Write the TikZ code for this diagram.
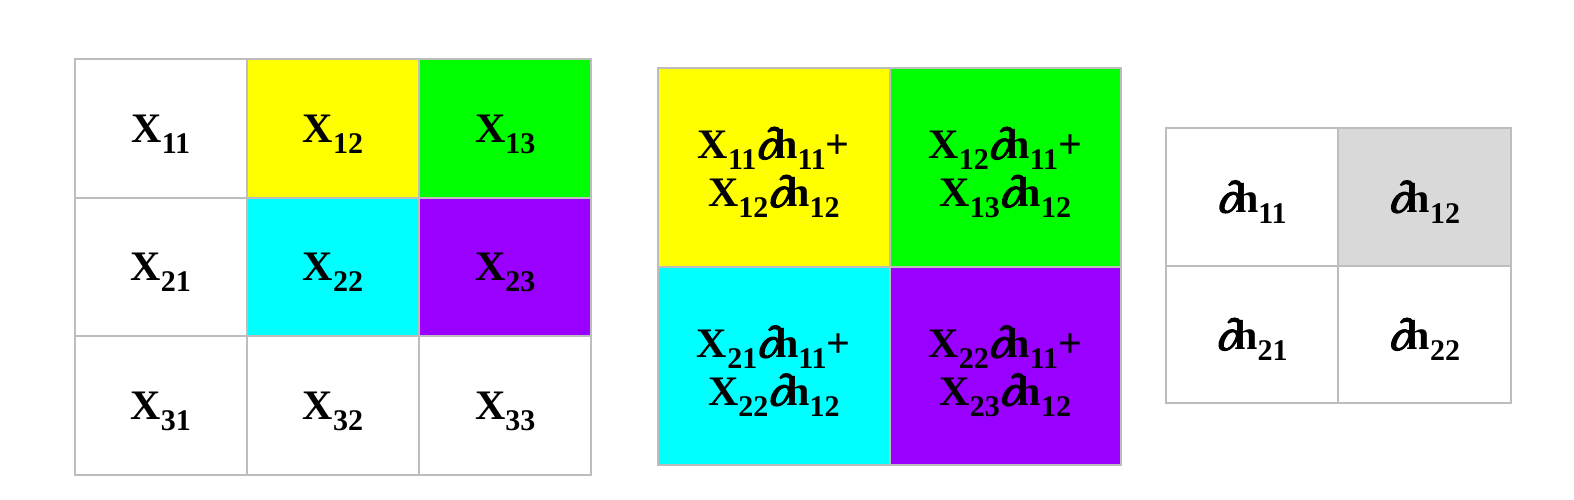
\documentclass[tikz,border=0pt]{standalone}
\usepackage{fontspec}
\setmainfont{Liberation Serif}
\newfontfamily\pfont{Liberation Serif}[FakeBold=3,FakeSlant=0.2]
\definecolor{gridgray}{HTML}{BDBDBD}
\definecolor{cyellow}{HTML}{FFFF00}
\definecolor{cgreen}{HTML}{00FF00}
\definecolor{ccyan}{HTML}{00FFFF}
\definecolor{cpurple}{HTML}{9900FF}
\definecolor{cgray}{HTML}{D9D9D9}
\newcommand{\idx}[1]{\raisebox{-11pt}[0pt][0pt]{\fontsize{30}{30}\selectfont #1}}
\newcommand{\dd}{{\pfont\fontsize{44}{48}\selectfont ∂}\kern-4pt}
\tikzset{
  cell/.style={draw=gridgray, line width=2pt, inner sep=0pt, align=center,
    font=\fontsize{42}{48}\selectfont\bfseries},
  xcell/.style={cell, minimum width=172.2pt, minimum height=138.7pt},
  mcell/.style={cell, minimum width=231.5pt, minimum height=198.5pt},
  hcell/.style={cell, minimum width=172.5pt, minimum height=137.5pt}
}
\begin{document}
\begin{tikzpicture}[x=1pt,y=-1pt]
   \useasboundingbox (0,0) rectangle (1574,500);
   % input X
   \node[xcell] (x11) at (160.8,128.3) {X\idx{11}};
   \node[xcell,fill=cyellow] (x12) at (333,128.3) {X\idx{12}};
   \node[xcell,fill=cgreen] (x13) at (505.2,128.3) {X\idx{13}};
   \node[xcell] (x21) at (160.8,267) {X\idx{21}};
   \node[xcell,fill=ccyan] (x22) at (333,267) {X\idx{22}};
   \node[xcell,fill=cpurple] (x23) at (505.2,267) {X\idx{23}};
   \node[xcell] (x31) at (160.8,405.7) {X\idx{31}};
   \node[xcell] (x32) at (333,405.7) {X\idx{32}};
   \node[xcell] (x33) at (505.2,405.7) {X\idx{33}};
   % products
   \node[mcell,fill=cyellow] (m11) at (773.8,167.3) {X\idx{11}\dd h\idx{11}+\\X\idx{12}\dd h\idx{12}};
   \node[mcell,fill=cgreen] (m12) at (1005.3,167.3) {X\idx{12}\dd h\idx{11}+\\X\idx{13}\dd h\idx{12}};
   \node[mcell,fill=ccyan] (m21) at (773.8,365.8) {X\idx{21}\dd h\idx{11}+\\X\idx{22}\dd h\idx{12}};
   \node[mcell,fill=cpurple] (m22) at (1005.3,365.8) {X\idx{22}\dd h\idx{11}+\\X\idx{23}\dd h\idx{12}};
   % gradient dh
   \node[hcell] (h11) at (1252,196.8) {\dd h\idx{11}};
   \node[hcell,fill=cgray] (h12) at (1424.5,196.8) {\dd h\idx{12}};
   \node[hcell] (h21) at (1252,334.3) {\dd h\idx{21}};
   \node[hcell] (h22) at (1424.5,334.3) {\dd h\idx{22}};
\end{tikzpicture}
\end{document}
